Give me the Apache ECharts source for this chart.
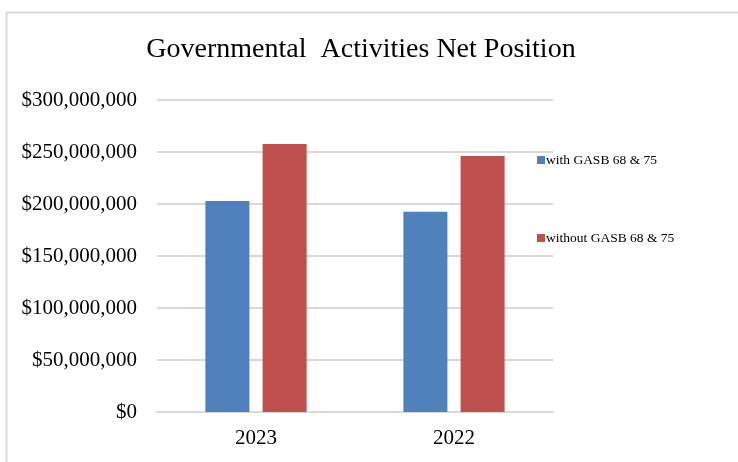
<!DOCTYPE html>
<html>
<head>
<meta charset="utf-8">
<style>html,body{margin:0;padding:0;background:#fff;}#c{width:738px;height:462px;}</style>
<script src="https://cdn.jsdelivr.net/npm/echarts@6/dist/echarts.min.js"></script>
</head>
<body>
<div id="c"></div>
<script>
var titleText = 'Governmental  Activities Net Position';
var categories = ['2023', '2022'];
var seriesNames = ['with GASB 68 & 75', 'without GASB 68 & 75'];
var withGasb = [202900000, 192600000];
var withoutGasb = [257700000, 246200000];
var serif = '"Liberation Serif", "Times New Roman", serif';

var chart = echarts.init(document.getElementById('c'), null, {renderer: 'canvas'});
chart.setOption({
  animation: false,
  backgroundColor: '#fff',
  graphic: [
    {type: 'line', shape: {x1: 6, y1: 12.5, x2: 738, y2: 12.5}, style: {stroke: '#d9d9d9', lineWidth: 2}},
    {type: 'line', shape: {x1: 6.5, y1: 12, x2: 6.5, y2: 462}, style: {stroke: '#d9d9d9', lineWidth: 2}}
  ],
  title: {
    text: titleText,
    left: 356, textAlign: 'center', top: 31,
    textStyle: {fontFamily: serif, fontSize: 28, fontWeight: 'normal', color: '#000'}
  },
  legend: {
    orient: 'vertical',
    left: 532, top: 148,
    itemWidth: 8, itemHeight: 8, itemGap: 64,
    icon: 'rect',
    textStyle: {fontFamily: serif, fontSize: 13.5, color: '#000', padding: [0, 0, 0, -4]},
    data: seriesNames
  },
  grid: {left: 157, right: 185, top: 100, bottom: 50},
  xAxis: {
    type: 'category', data: categories,
    axisLine: {lineStyle: {color: '#d9d9d9', width: 2}},
    axisTick: {show: false},
    axisLabel: {fontFamily: serif, fontSize: 21, color: '#000', margin: 16}
  },
  yAxis: {
    type: 'value', min: 0, max: 300000000, interval: 50000000,
    axisLine: {show: false}, axisTick: {show: false},
    splitLine: {lineStyle: {color: '#d9d9d9', width: 2}},
    axisLabel: {
      fontFamily: serif, fontSize: 21, color: '#000', margin: 20,
      formatter: function (v) { return '$' + v.toLocaleString('en-US'); }
    }
  },
  series: [
    {name: seriesNames[0], type: 'bar', data: withGasb, barWidth: 44, barGap: '30%',
     itemStyle: {color: '#4f81bd'}},
    {name: seriesNames[1], type: 'bar', data: withoutGasb, barWidth: 44, barGap: '30%',
     itemStyle: {color: '#c0504d'}}
  ]
});
</script>
</body>
</html>
